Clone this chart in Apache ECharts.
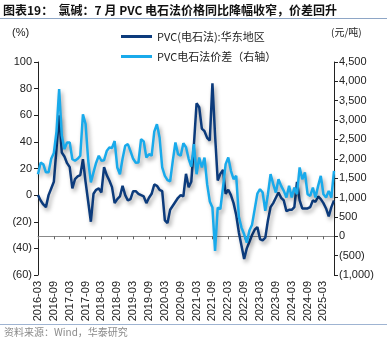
<!DOCTYPE html>
<html><head><meta charset="utf-8">
<script src="https://cdn.jsdelivr.net/npm/echarts@6/dist/echarts.min.js"></script>
<style>html,body{margin:0;padding:0;background:#fff}#c{width:387px;height:341px}</style>
</head><body><div id="c"></div>
<script>
// categories: monthly 2016-03 .. 2025-07
var categories = [];
(function(){ for (var y = 2016; y <= 2025; y++) for (var m = 1; m <= 12; m++) {
  if (y === 2016 && m < 3) continue; if (y === 2025 && m > 7) continue;
  categories.push(y + '-' + (m < 10 ? '0' + m : m)); } })();

var pvcYoY = [0,-4,-7,-9,0,5,10,35,60,32,29,24,21,5,12,14,15,27,10,-5,-20,1,4,5,2,21,15,11,6,-6,-3,-1,7,0,-4,-3,3,3,1,0,-1,-6,-2,1,8,7,4,3,-19,-21,-11,-8,-5,-2,0,-1,16,6,10,38,69,66,50,48,43,41,84,45,11,16,19,1,4,0,-6,-15,-28,-38,-48,-40,-35,-30,-26,-24,-33,-34,-32,-19,-9,-6,-2,2,-2,-4,-12,-11,-11,-9,10,-4,-10,-10,-10,-9,-4,-5,-1,-3,-6,-10,-16,-9,-4];
var pvcSpread = [1600,1900,1860,1650,1650,2000,2150,2700,3800,2600,2250,2420,2420,1990,1950,2000,2080,3150,2900,1950,1390,1650,1900,2080,1950,1965,2200,2290,2280,2460,1776,1600,2000,2336,2380,2200,2000,1900,1905,2508,2450,2034,2120,2078,2700,2896,2552,1776,1560,1450,1420,1948,2422,2120,2078,2400,2300,2000,1800,2379,1603,2034,1776,2034,1345,900,741,-379,741,700,1259,1862,2034,1690,1474,1560,500,224,52,-164,150,300,700,1100,1216,1129,655,1086,1603,1345,1129,1474,1300,1172,1000,1302,1000,1259,1086,1776,1474,1647,1086,1043,1259,1000,1302,1560,1086,1000,1172,1000,1690];

var seriesNames = ['PVC(电石法):华东地区', 'PVC电石法价差（右轴）'];
var titleText = '图表19：  氯碱：7 月 PVC 电石法价格同比降幅收窄，价差回升';
var sourceText = '资料来源：Wind，华泰研究';

function fmt(v) {
  var s = Math.abs(v).toString().replace(/\B(?=(\d{3})+(?!\d))/g, ',');
  return v < 0 ? '(' + s + ')' : s;
}
var FONT = '"Liberation Sans", Arial, sans-serif';
var CJK = '"Noto Sans CJK SC", sans-serif';
var chart = echarts.init(document.getElementById('c'), null, {renderer: 'canvas'});
var shadow = {shadowColor: 'rgba(0,0,0,0.35)', shadowBlur: 4, shadowOffsetX: 2, shadowOffsetY: 3};
chart.setOption({
  animation: false,
  grid: {left: 38, right: 53, top: 62, bottom: 66, containLabel: false},
  legend: {
    orient: 'vertical', left: 116, top: 26, itemWidth: 31, itemHeight: 3, itemGap: 9,
    icon: 'rect', textStyle: {fontSize: 11, color: '#222', fontFamily: CJK},
    data: seriesNames
  },
  xAxis: [{
    type: 'category', data: categories, boundaryGap: false, position: 'bottom',
    axisLine: {show: false}, axisTick: {show: false},
    axisLabel: {interval: 5, rotate: 90, fontSize: 11, color: '#222', margin: 6, fontFamily: FONT}
  }, {
    type: 'category', data: categories, boundaryGap: false, position: 'bottom',
    axisLine: {show: true, onZero: true, lineStyle: {color: '#888', width: 1}},
    axisTick: {show: true, interval: 5, length: 3, lineStyle: {color: '#666'}},
    axisLabel: {show: false}
  }],
  yAxis: [{
    type: 'value', min: -60, max: 100, interval: 20, position: 'left',
    splitLine: {show: false},
    axisLine: {show: true, lineStyle: {color: '#222', width: 1}},
    axisTick: {show: true, length: 4, lineStyle: {color: '#222'}},
    axisLabel: {formatter: fmt, fontSize: 11, color: '#222', margin: 6, fontFamily: FONT}
  }, {
    type: 'value', min: -1000, max: 4500, interval: 500, position: 'right',
    splitLine: {show: false},
    axisLine: {show: true, lineStyle: {color: '#222', width: 1}},
    axisTick: {show: true, length: 4, lineStyle: {color: '#222'}},
    axisLabel: {formatter: fmt, fontSize: 11, color: '#222', margin: 5, fontFamily: FONT}
  }],
  series: [{
    name: seriesNames[0], type: 'line', data: pvcYoY, yAxisIndex: 0, xAxisIndex: 0,
    showSymbol: false, symbol: 'none', color: '#0c3b7c',
    lineStyle: Object.assign({width: 2.5, color: '#0c3b7c'}, shadow)
  }, {
    name: seriesNames[1], type: 'line', data: pvcSpread, yAxisIndex: 1, xAxisIndex: 0,
    showSymbol: false, symbol: 'none', color: '#19aaeb',
    lineStyle: Object.assign({width: 2.5, color: '#19aaeb'}, shadow)
  }],
  graphic: [
    {type: 'text', left: 3, top: 4, style: {text: titleText, fontSize: 12, fontWeight: 'bold', fill: '#111', fontFamily: CJK}},
    {type: 'rect', left: 0, top: 18, shape: {width: 387, height: 1}, style: {fill: '#8ea6c6'}},
    {type: 'text', left: 12, top: 27, style: {text: '(%)', fontSize: 11, fill: '#222', fontFamily: FONT}},
    {type: 'text', left: 331, top: 27, style: {text: '(元/吨)', fontSize: 10, fill: '#222', fontFamily: CJK}},
    {type: 'rect', left: 0, top: 324, shape: {width: 387, height: 1}, style: {fill: '#9fb4d2'}},
    {type: 'text', left: 4, top: 327, style: {text: sourceText, fontSize: 10, fill: '#8a8a8a', fontFamily: CJK}}
  ]
});
</script></body></html>
